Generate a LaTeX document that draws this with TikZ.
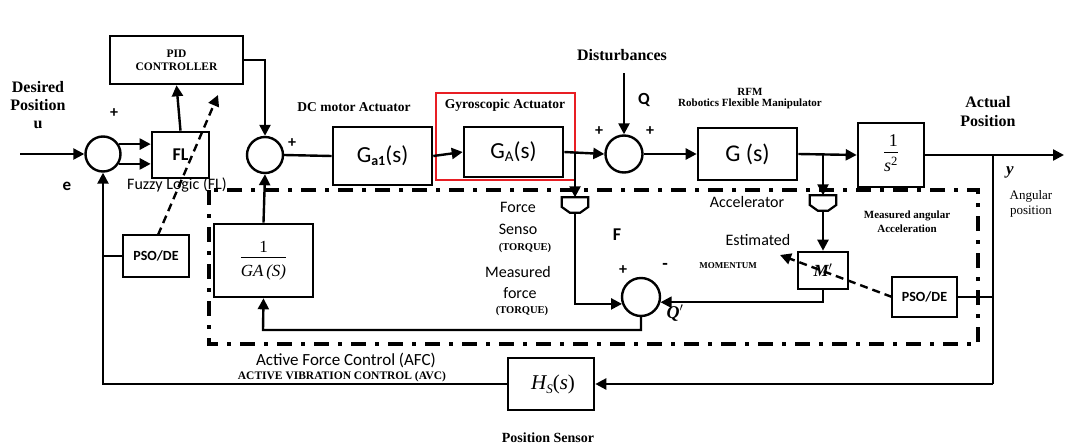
\documentclass[tikz,border=0pt]{standalone}
\usepackage{amsmath}
\usepackage{fontspec}
\setmainfont{Liberation Serif}
\setsansfont{Carlito}
\usetikzlibrary{arrows.meta,calc}
\definecolor{redbox}{RGB}{232,30,36}
\newcommand\fsz[1]{\fontsize{#1}{1.15\dimexpr#1pt\relax}\selectfont}
\newcommand\myfrac[2]{\begin{tabular}{@{}c@{}}#1\\[-1pt]\hline\rule{0pt}{1.05em}#2\end{tabular}}
\begin{document}
\begin{tikzpicture}[x=1pt,y=-1pt,
  blk/.style={draw, line width=2.6pt, inner sep=0pt, font=\sffamily, align=center},
  sumc/.style={circle, draw, line width=2.4pt, minimum size=36pt, inner sep=0pt},
  conn/.style={line width=2.4pt},
  arr/.style={conn, -{Triangle[length=11pt,width=11pt]}},
  dasharr/.style={line width=2.4pt, dash pattern=on 8pt off 5pt, -{Triangle[length=11pt,width=11pt]}},
  afc/.style={line width=3.6pt, dash pattern=on 15pt off 9pt on 4pt off 9pt},
  sens/.style={minimum width=26pt, minimum height=15pt, inner sep=0pt},
  sensdraw/.style={line width=2.2pt},
  lab/.style={inner sep=0pt, align=center},
]
\useasboundingbox (0,0) rectangle (1067,444);
\fill[white] (0,0) rectangle (1067,444);

% AFC dash-dot box
\draw[afc] (209,190) rectangle (978,344);

% blocks
\node[blk, minimum width=133pt, minimum height=48pt, font=\rmfamily\bfseries\fsz{11.5}] (PID) at (176.5,60) {PID\\CONTROLLER};
\node[blk, minimum width=57pt, minimum height=46pt, font=\sffamily\bfseries\fsz{18}] (FL) at (180.5,155) {FL};
\node[blk, minimum width=66pt, minimum height=42pt, font=\sffamily\bfseries\fsz{14}] (PSOa) at (156,256) {PSO/DE};
\node[blk, minimum width=99pt, minimum height=73pt, font=\rmfamily\fsz{17}] (GAinv) at (263.5,260.5) {\setlength{\arrayrulewidth}{1pt}\myfrac{1}{\itshape GA\,(S)}};
\node[blk, minimum width=99pt, minimum height=58pt, font=\sffamily\fsz{23}] (Ga1) at (382.5,156) {G\raisebox{-3pt}{\fsz{14}\bfseries a1}(s)};
\node[blk, minimum width=99pt, minimum height=50pt, font=\sffamily\fsz{23}] (GA) at (513.5,152) {G\raisebox{-3pt}{\fsz{15}A}(s)};
\node[draw=redbox, line width=2.2pt, minimum width=139pt, minimum height=87pt, inner sep=0pt] (red) at (505.5,136.5) {};
\node[blk, minimum width=99pt, minimum height=52pt, font=\sffamily\fsz{24}] (G) at (747.5,154) {G (s)};
\node[blk, minimum width=66pt, minimum height=64pt, font=\rmfamily\fsz{18}] (S2) at (891,155) {\setlength{\arrayrulewidth}{1pt}\myfrac{\ 1\ }{\itshape s\textsuperscript{\upshape 2}}};
\node[blk, minimum width=50pt, minimum height=37pt, font=\rmfamily\bfseries\itshape\fsz{17}] (Mp) at (823,270.5) {M$'$};
\node[blk, minimum width=65pt, minimum height=40pt, font=\sffamily\bfseries\fsz{14}] (PSOb) at (924.5,297) {PSO/DE};
\node[blk, minimum width=86pt, minimum height=52pt, font=\rmfamily\fsz{21}] (HS) at (551,384) {\kern4pt{\itshape H}\raisebox{-4pt}{\fsz{13}\itshape S}({\itshape s})};

% summing junctions
\node[sumc, minimum size=35pt] (s1) at (103,154) {};
\node[sumc] (s2) at (265,155) {};
\node[sumc, minimum size=37pt] (s3) at (624,154) {};
\node[sumc, minimum size=38pt] (s4) at (641,297) {};

% sensors
\node[sens] (fs) at (575,205) {};
\draw[sensdraw] (fs.north west) -- (fs.north east) -- ($(fs.east)+(0,2)$) -- ($(fs.south east)+(-8,0)$) -- ($(fs.south west)+(8,0)$) -- ($(fs.west)+(0,2)$) -- cycle;
\node[sens] (acc) at (823,203) {};
\draw[sensdraw] (acc.north west) -- (acc.north east) -- ($(acc.east)+(0,2)$) -- ($(acc.south east)+(-8,0)$) -- ($(acc.south west)+(8,0)$) -- ($(acc.west)+(0,2)$) -- cycle;

% coordinates
\coordinate (in) at (20,154);
\coordinate (dist) at (624,73);
\coordinate (out) at (1064,155);
\coordinate (tapF) at (575,152);
\coordinate (tapA) at (823,154);
\coordinate (tapY) at (993,155);
\coordinate (cY) at (993,384);
\coordinate (cA) at (263,330);
\coordinate (dA) at (158,235);
\coordinate (dAe) at (218,95);
\coordinate (dB) at (892,297);
\coordinate (dBe) at (780,255);

% connectors
\draw[arr] (in) -- (s1.west);
\draw[arr] (s1.32) -- (s1.32 -| FL.west);
\draw[arr] (s1.-32) -- (s1.-32 -| FL.west);
\draw[arr] (FL.north) -- (PID.south);
\draw[arr] (PID.east) -| (s2.north);
\draw[conn] (s2.east) -- (Ga1.west);
\draw[arr] (Ga1.east) -- (GA.west);
\draw[arr] (GA.east) -- (s3.west);
\draw[arr] (dist) -- (s3.north);
\draw[arr] (s3.east) -- (G.west);
\draw[arr] (G.east) -- (S2.west);
\draw[arr] (S2.east) -- (out);
\draw[arr] (tapF) -- (fs.north);
\draw[arr] (fs.south) |- (s4.200);
\draw[arr] (tapA) -- (acc.north);
\draw[arr] (acc.south) -- (Mp.north);
\draw[arr] (Mp.south) |- (s4.-15);
\draw[arr] (s4.south) |- (cA) -- (GAinv.south);
\draw[arr] (GAinv.north) -- (s2.south);
\draw[conn] (tapY) -- (cY);
\draw[arr] (cY) -- (HS.east);
\draw[conn] (PSOb.east) -- (PSOb.east -| tapY);
\draw[arr] (HS.west) -| (s1.south);
\draw[conn] (PSOa.west) -- (PSOa.west -| s1.south);
\draw[dasharr] (dA) -- (dAe);
\draw[dasharr] (dB) -- (dBe);

% labels
\node[lab, font=\rmfamily\bfseries\fontsize{16}{18}\selectfont] (ldes) at (38,105) {Desired\\Position\\u};
\node[lab, font=\sffamily\bfseries\fsz{16}] (p1) at (114,113) {+};
\node[lab, font=\sffamily\bfseries\fsz{17}] (le) at (67,186) {e};
\node[lab, font=\sffamily\fsz{16}] (lfuzzy) at (177,185) {Fuzzy Logic (FL)};
\node[lab, font=\sffamily\bfseries\fsz{16}] (p2) at (292,143) {+};
\node[lab, font=\rmfamily\bfseries\fsz{13.5}] (ldc) at (354,107) {DC motor Actuator};
\node[lab, font=\rmfamily\bfseries\fsz{13.5}] (lgyro) at (505,105) {Gyroscopic Actuator};
\node[lab, font=\rmfamily\bfseries\fsz{16}] (ldist) at (622,55) {Disturbances};
\node[lab, font=\sffamily\bfseries\fsz{17}] (lQ) at (644,100) {Q};
\node[lab, font=\sffamily\bfseries\fsz{16}] (p3) at (599,131) {+};
\node[lab, font=\sffamily\bfseries\fsz{16}] (p4) at (650,131) {+};
\node[lab, font=\rmfamily\bfseries\fsz{11}] (lrfm) at (750,92) {RFM};
\node[lab, font=\rmfamily\bfseries\fsz{11}] (lrob) at (750,104) {Robotics Flexible Manipulator};
\node[lab, font=\rmfamily\bfseries\fontsize{16}{19}\selectfont] (lact) at (988,112) {Actual\\Position};
\node[lab, font=\rmfamily\bfseries\itshape\fsz{17}] (ly) at (1010,172) {y};
\node[lab, font=\rmfamily\fontsize{13}{15}\selectfont] (lang) at (1031,204) {Angular\\position};
\node[lab, font=\sffamily\fsz{16}] (lforce) at (518,207) {Force};
\node[lab, font=\sffamily\fsz{16}] (lsenso) at (518,229) {Senso};
\node[lab, font=\rmfamily\bfseries\fsz{10.5}] (ltq1) at (525,248) {(TORQUE)};
\node[lab, font=\sffamily\fsz{16}] (lmeas) at (518,272) {Measured};
\node[lab, font=\sffamily\fsz{16}] (lforce2) at (520,293) {force};
\node[lab, font=\rmfamily\bfseries\fsz{10.5}] (ltq2) at (522,311) {(TORQUE)};
\node[lab, font=\sffamily\bfseries\fsz{18}] (lF) at (617,235) {F};
\node[lab, font=\sffamily\bfseries\fsz{16}] (p5) at (623,270) {+};
\node[lab, font=\sffamily\bfseries\fsz{18}] (m1) at (665,266) {-};
\node[lab, font=\rmfamily\bfseries\itshape\fsz{18}] (lQp) at (675,313) {Q$'$};
\node[lab, font=\sffamily\fsz{16}] (laccel) at (747,202) {Accelerator};
\node[lab, font=\sffamily\fsz{16}] (lest) at (758,240) {Estimated};
\node[lab, font=\rmfamily\bfseries\fsz{9}] (lmom) at (728,266) {MOMENTUM};
\node[lab, font=\rmfamily\bfseries\fontsize{11}{14}\selectfont] (lmaa) at (907,222) {Measured angular\\Acceleration};
\node[lab, font=\sffamily\fsz{17}] (lafc) at (346,360) {Active Force Control (AFC)};
\node[lab, font=\rmfamily\bfseries\fsz{11.5}] (lavc) at (342,377) {ACTIVE VIBRATION CONTROL (AVC)};
\node[lab, font=\rmfamily\bfseries\fsz{14}] (lps) at (548,438) {Position Sensor};
\end{tikzpicture}
\end{document}
